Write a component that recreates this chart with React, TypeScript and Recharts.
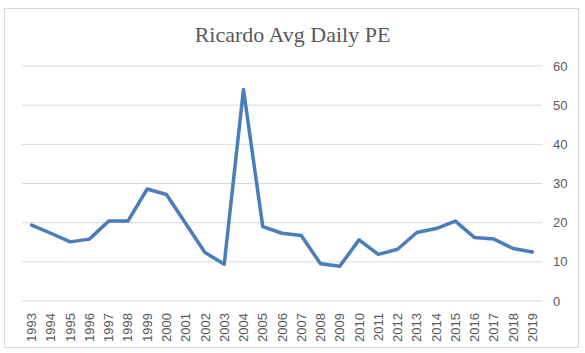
import { LineChart, Line, XAxis, YAxis, CartesianGrid } from 'recharts';

// Ricardo average daily PE by year
const years = [
    '1993', '1994', '1995', '1996', '1997', '1998', '1999', '2000', '2001', '2002',
    '2003', '2004', '2005', '2006', '2007', '2008', '2009', '2010', '2011', '2012',
    '2013', '2014', '2015', '2016', '2017', '2018', '2019',
];
const pe = [
    19.4, 17.3, 15.1, 15.8, 20.4, 20.4, 28.6, 27.2, 19.8, 12.4,
    9.4, 54.0, 19.0, 17.3, 16.7, 9.5, 8.9, 15.6, 11.9, 13.2,
    17.5, 18.5, 20.4, 16.2, 15.8, 13.4, 12.5,
];
const yTicks = [0, 10, 20, 30, 40, 50, 60];

const data = years.map((year, i) => ({ year, pe: pe[i] }));

const YearTick = (props: any) => {
    const { x, y, payload } = props;
    return (
        <g transform={`translate(${x},${y + 4})`}>
            <text
                transform="rotate(-90)"
                textAnchor="end"
                dy="0.35em"
                fontSize={13}
                fontFamily="'Liberation Sans', Arial, sans-serif"
                fill="#595959"
            >
                {payload.value}
            </text>
        </g>
    );
};

export default function App() {
    return (
        <div style={{ position: 'absolute', left: 0, top: 0, width: 585, height: 353, background: '#fff' }}>
            <div
                style={{
                    position: 'absolute',
                    left: 4,
                    top: 8,
                    width: 575,
                    height: 340,
                    border: '1px solid #d9d9d9',
                    boxSizing: 'border-box',
                }}
            />
            <div
                style={{
                    position: 'absolute',
                    left: 0,
                    top: 24,
                    width: 585,
                    textAlign: 'center',
                    fontFamily: "'Liberation Serif', serif",
                    fontSize: 22,
                    lineHeight: '22px',
                    color: '#595959',
                }}
            >
                Ricardo Avg Daily PE
            </div>
            <div style={{ position: 'absolute', left: 0, top: 0 }}>
                <LineChart width={585} height={353} data={data} margin={{ top: 66, right: 8, left: 22, bottom: 22 }}>
                    <CartesianGrid vertical={false} stroke="#d9d9d9" strokeWidth={1} />
                    <XAxis
                        dataKey="year"
                        axisLine={false}
                        tickLine={false}
                        interval={0}
                        height={30}
                        padding={{ left: 9.6, right: 9.6 }}
                        tick={<YearTick />}
                    />
                    <YAxis
                        orientation="right"
                        domain={[0, 60]}
                        ticks={yTicks}
                        axisLine={false}
                        tickLine={false}
                        tickSize={6}
                        tickMargin={5}
                        width={35}
                        tick={{ fontSize: 13, fill: '#595959', fontFamily: "'Liberation Sans', Arial, sans-serif", textAnchor: 'start' }}
                    />
                    <Line
                        type="linear"
                        dataKey="pe"
                        stroke="#4A7EBB"
                        strokeWidth={3.5}
                        strokeLinejoin="round"
                        strokeLinecap="round"
                        dot={false}
                        activeDot={false}
                        isAnimationActive={false}
                    />
                </LineChart>
            </div>
        </div>
    );
}
